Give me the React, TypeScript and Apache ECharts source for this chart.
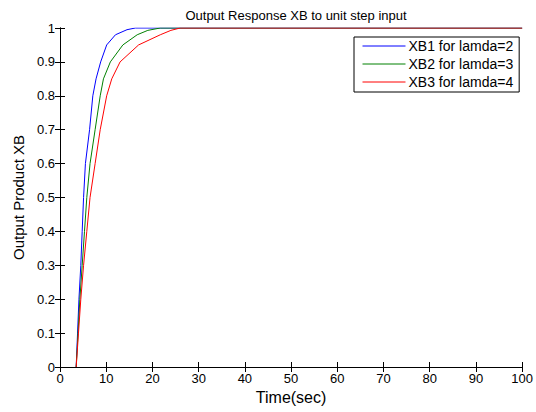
import React, { useEffect, useRef } from "react";
import * as echarts from "echarts";

const titleText = "Output Response XB to unit step input";
const xName = "Time(sec)";
const yName = "Output Product XB";
const seriesNames = ["XB1 for lamda=2", "XB2 for lamda=3", "XB3 for lamda=4"];
const xTicks = [0, 10, 20, 30, 40, 50, 60, 70, 80, 90, 100];
const yTicks = [0, 0.1, 0.2, 0.3, 0.4, 0.5, 0.6, 0.7, 0.8, 0.9, 1];

const xb1: [number, number][] = [
  [3.5, 0], [3.8, 0.1], [4.1, 0.2], [4.5, 0.3], [4.8, 0.4], [5.1, 0.5],
  [5.5, 0.6], [6.4, 0.7], [7.1, 0.8], [7.8, 0.85], [8.8, 0.9], [10.1, 0.95],
  [12, 0.98], [14.5, 0.995], [16.3, 1], [100, 1],
];
const xb2: [number, number][] = [
  [3.5, 0], [3.9, 0.1], [4.3, 0.2], [4.8, 0.3], [5.3, 0.4], [5.8, 0.5],
  [6.5, 0.6], [7.6, 0.7], [8.7, 0.8], [9.4, 0.85], [10.9, 0.9], [13.6, 0.95],
  [16.7, 0.98], [19, 0.993], [21.7, 1], [100, 1],
];
const xb3: [number, number][] = [
  [3.5, 0], [4.0, 0.1], [4.5, 0.2], [5.1, 0.3], [5.8, 0.4], [6.5, 0.5],
  [7.6, 0.6], [8.7, 0.7], [10.1, 0.8], [11.2, 0.85], [13, 0.9], [17, 0.95],
  [21.7, 0.98], [24, 0.993], [26, 1], [100, 1],
];
const seriesData = [xb1, xb2, xb3];
const colors = ["#0000ff", "#008000", "#ff0000"];

const FONT = "Liberation Sans, Arial, sans-serif";

export default function App() {
  const ref = useRef<HTMLDivElement>(null);
  useEffect(() => {
    if (!ref.current) return;
    const chart = echarts.init(ref.current, undefined, { renderer: "svg" });
    const axisLine = { show: true, lineStyle: { color: "#000", width: 1 } };
    const tick = { show: true, inside: true, length: 5, lineStyle: { color: "#000" } };
    const base = {
      axisLine,
      axisTick: tick,
      splitLine: { show: false },
    };
    chart.setOption({
      animation: false,
      backgroundColor: "#fff",
      textStyle: { fontFamily: FONT },
      title: {
        text: titleText,
        left: 291,
        textAlign: "center",
        top: 4,
        textStyle: { fontFamily: FONT, fontSize: 13, fontWeight: "normal", color: "#000" },
      },
      legend: {
        orient: "vertical",
        left: 354,
        top: 37,
        width: 168,
        padding: [2, 6, 3, 8],
        itemGap: 4,
        itemWidth: 43,
        itemHeight: 14,
        borderColor: "#000",
        borderWidth: 1,
        borderRadius: 0,
        backgroundColor: "#fff",
        itemStyle: { opacity: 0 },
        lineStyle: { width: 1 },
        data: seriesNames,
        textStyle: { fontFamily: FONT, fontSize: 14, color: "#000", padding: [0, 0, 0, -2] },
      },
      grid: { left: 60, right: 13, top: 28, bottom: 45 },
      xAxis: [
        {
          ...base,
          type: "value",
          min: xTicks[0],
          max: xTicks[xTicks.length - 1],
          interval: 10,
          position: "bottom",
          name: xName,
          nameLocation: "middle",
          nameGap: 21,
          nameTextStyle: { fontFamily: FONT, fontSize: 16, color: "#000" },
          axisLabel: { color: "#000", fontSize: 13, fontFamily: FONT, margin: 5 },
        },
        {
          ...base,
          type: "value",
          min: xTicks[0],
          max: xTicks[xTicks.length - 1],
          interval: 10,
          position: "top",
          axisLabel: { show: false },
        },
      ],
      yAxis: [
        {
          ...base,
          type: "value",
          min: yTicks[0],
          max: yTicks[yTicks.length - 1],
          interval: 0.1,
          position: "left",
          name: yName,
          nameLocation: "middle",
          nameGap: 32,
          nameTextStyle: { fontFamily: FONT, fontSize: 15, color: "#000" },
          axisLabel: {
            color: "#000",
            fontSize: 13,
            fontFamily: FONT,
            margin: 5,
            formatter: (v: number) => String(Math.round(v * 10) / 10),
          },
        },
        {
          ...base,
          type: "value",
          min: yTicks[0],
          max: yTicks[yTicks.length - 1],
          interval: 0.1,
          position: "right",
          axisLabel: { show: false },
        },
      ],
      series: seriesData.map((d, i) => ({
        name: seriesNames[i],
        type: "line",
        data: d,
        symbol: "none",
        showSymbol: false,
        color: colors[i],
        lineStyle: { color: colors[i], width: 1 },
        xAxisIndex: 0,
        yAxisIndex: 0,
      })),
    });
    return () => chart.dispose();
  }, []);
  return (
    <div
      ref={ref}
      style={{ position: "fixed", left: 0, top: 0, width: 536, height: 412 }}
    />
  );
}
